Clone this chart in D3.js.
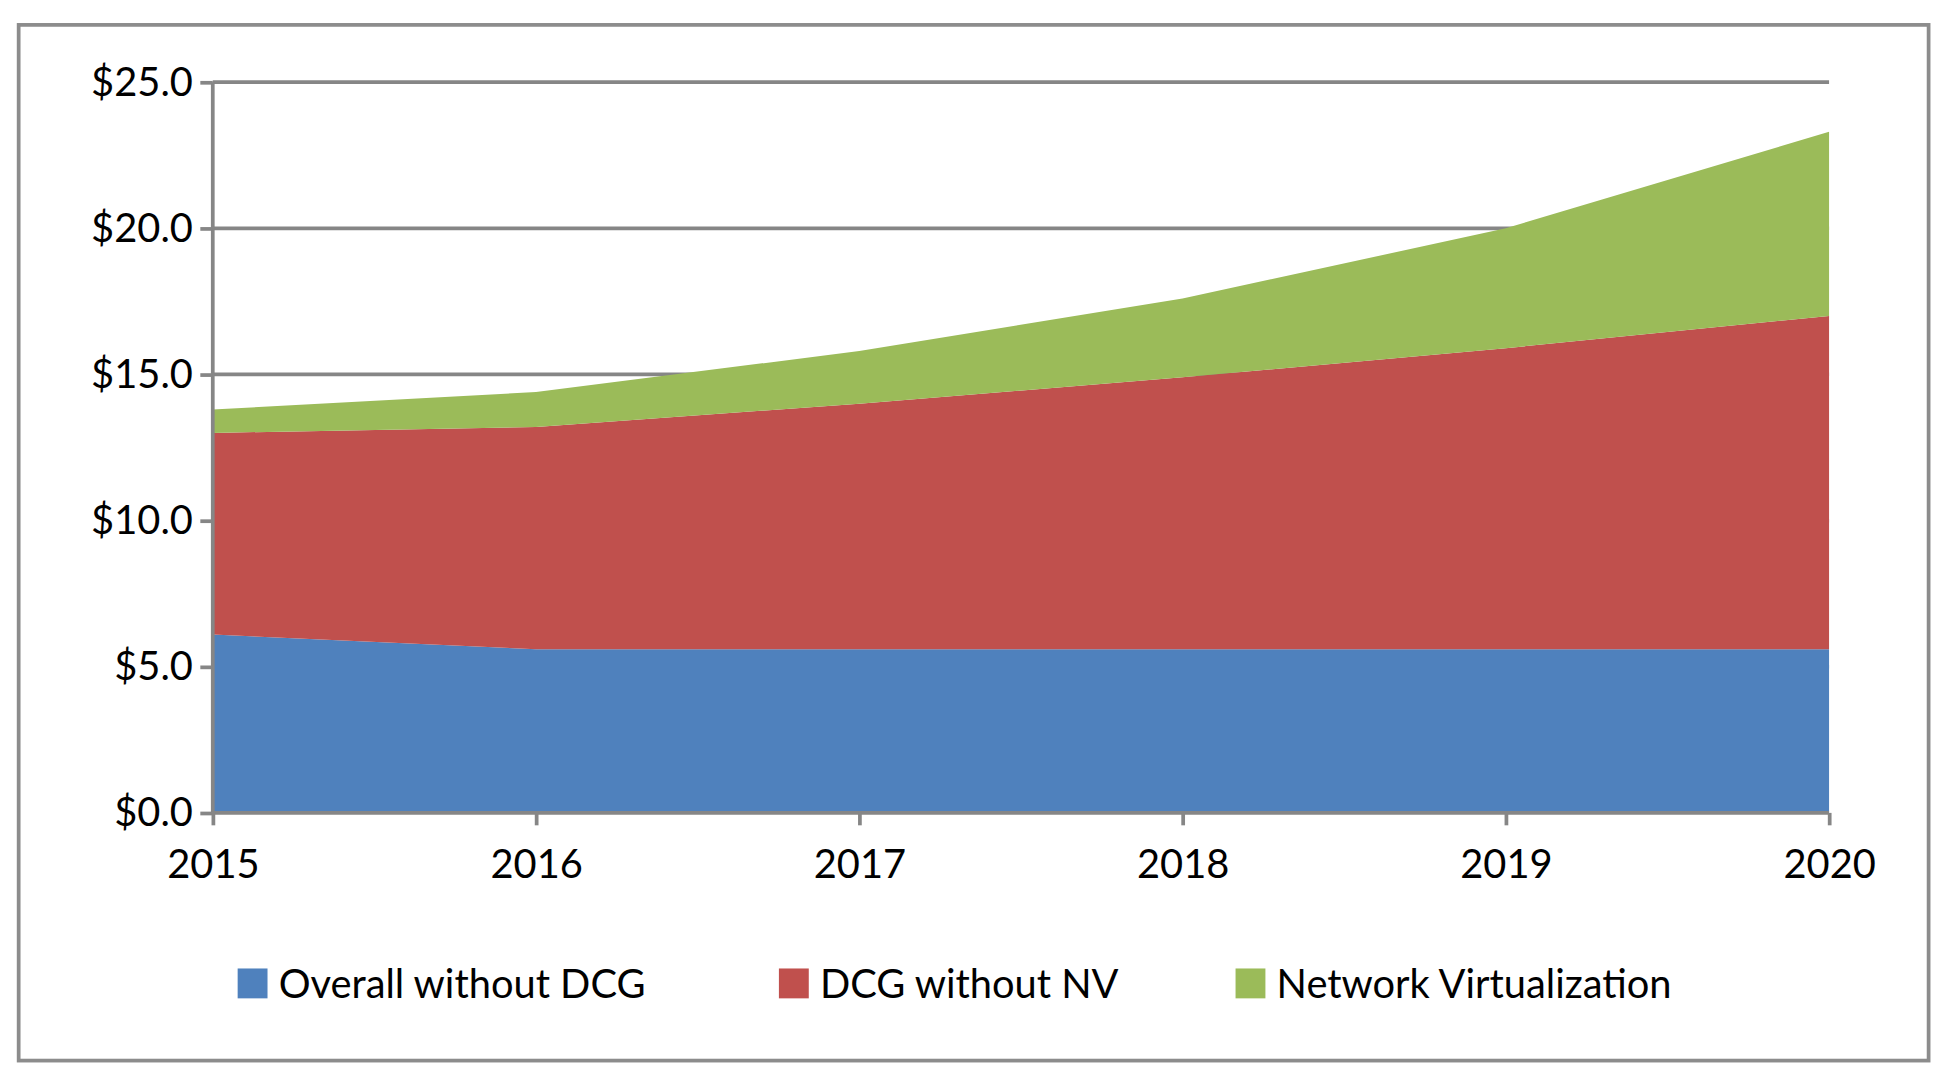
<!DOCTYPE html>
<html><head><meta charset="utf-8">
<script src="https://cdn.jsdelivr.net/npm/d3@7"></script>
<style>body{margin:0;background:#fff}svg{display:block}</style>
</head><body>
<script>
const years = ["2015","2016","2017","2018","2019","2020"];
const overallWithoutDCG = [6.1, 5.6, 5.6, 5.6, 5.6, 5.6];
const dcgWithoutNV = [6.9, 7.6, 8.4, 9.3, 10.3, 11.4];
const networkVirtualization = [0.8, 1.2, 1.8, 2.7, 4.1, 6.3];
const seriesNames = ["Overall without DCG","DCG without NV","Network Virtualization"];
const colors = ["#4f81bd","#c0504d","#9bbb59"];
const yTicks = [0,5,10,15,20,25];

const W=1568,H=870;
const svg=d3.select("body").append("svg").attr("width",1951).attr("height",1083).attr("viewBox",`0 0 ${W} ${H}`).attr("preserveAspectRatio","none");
svg.append("rect").attr("x",15).attr("y",20).attr("width",1535).attr("height",832).attr("fill","#fff").attr("stroke","#8c8c8c").attr("stroke-width",3);
const x=d3.scalePoint().domain(years).range([171,1470]);
const y=d3.scaleLinear().domain([0,25]).range([653,66]);
const font="Lato, 'Open Sans', sans-serif";
// grid
svg.append("g").selectAll("line").data(yTicks.filter(d=>d>0)).join("line")
 .attr("x1",171).attr("x2",1470).attr("y1",d=>y(d)).attr("y2",d=>y(d)).attr("stroke","#868686").attr("stroke-width",3);
const table=years.map((yr,i)=>({year:yr,a:overallWithoutDCG[i],b:dcgWithoutNV[i],c:networkVirtualization[i]}));
const stack=d3.stack().keys(["a","b","c"])(table);
const area=d3.area().x(d=>x(d.data.year)).y0(d=>y(d[0])).y1(d=>y(d[1]));
svg.append("g").selectAll("path").data(stack).join("path").attr("d",area).attr("fill",(d,i)=>colors[i]);
// axes
const ya=svg.append("g").attr("transform","translate(171,0)").call(d3.axisLeft(y).tickValues(yTicks).tickFormat(d=>"$"+d3.format(".1f")(d)).tickSize(10).tickPadding(6));
const xa=svg.append("g").attr("transform","translate(0,653)").call(d3.axisBottom(x).tickSize(10).tickPadding(20));
[ya,xa].forEach(g=>{g.select(".domain").attr("stroke","#868686").attr("stroke-width",3);
 g.selectAll(".tick line").attr("stroke","#868686").attr("stroke-width",3);
 g.selectAll("text").attr("font-family",font).attr("font-size",32).attr("fill","#000");});
ya.select(".domain").attr("d","M0,653V66");
xa.select(".domain").attr("d","M171,0H1470");
// legend
const lx=[191,626,993];
const lg=svg.append("g").selectAll("g").data(seriesNames).join("g").attr("transform",(d,i)=>`translate(${lx[i]},778)`);
lg.append("rect").attr("width",24).attr("height",24).attr("fill",(d,i)=>colors[i]);
lg.append("text").attr("x",33).attr("y",12).attr("dy","0.36em").attr("font-family",font).attr("font-size",32).text(d=>d);
</script>
</body></html>
